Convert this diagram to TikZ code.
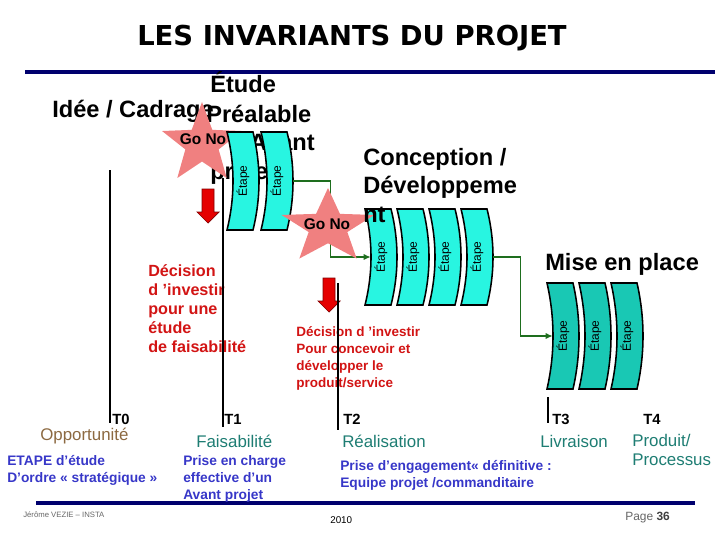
\documentclass[tikz,border=0pt]{standalone}
\usepackage{fontspec}
\setmainfont{Liberation Sans}
\newfontfamily\titlefont{DejaVu Sans}
\usepackage{graphicx}
\usetikzlibrary{shapes.geometric,arrows.meta}
\definecolor{navy}{RGB}{0,0,110}
\definecolor{etapeA}{RGB}{40,245,225}
\definecolor{etapeB}{RGB}{25,200,180}
\definecolor{gonogo}{RGB}{240,128,128}
\definecolor{lien}{RGB}{30,110,30}
\definecolor{decision}{RGB}{210,20,20}
\definecolor{jalonc}{RGB}{30,125,115}
\definecolor{opport}{RGB}{140,105,65}
\definecolor{consignec}{RGB}{55,55,200}
\begin{document}
\begin{tikzpicture}[x=0.025cm,y=-0.025cm,
  bigtxt/.style={font=\fontsize{16.8}{20.3}\selectfont\bfseries,inner sep=0,anchor=base west},
  gostar/.style={star,star points=5,star point ratio=2.4,fill=gonogo,draw=none,inner sep=0},
  gotxt/.style={font=\fontsize{11}{13}\selectfont\bfseries,inner sep=0},
  etape/.style={draw=black,line width=1.1pt},
  etapetxt/.style={inner sep=0,minimum width=0.8cm,font=\fontsize{8.5}{10}\selectfont},
  link/.style={draw=lien,line width=1pt,-{Latex[length=5pt,width=4.5pt]}},
  redarrow/.style={fill=red!90!black,draw=red!50!black,line width=0.5pt},
  tline/.style={line width=1.3pt},
  tlabel/.style={font=\fontsize{10.5}{12}\selectfont\bfseries,inner sep=0,anchor=base west},
  decis/.style={text=decision,inner sep=0,anchor=north west,align=left},
  jalon/.style={text=jalonc,font=\fontsize{12}{13.5}\selectfont,inner sep=0,anchor=base west},
  consigne/.style={text=consignec,font=\fontsize{9.8}{12.1}\selectfont\bfseries,inner sep=0,anchor=north west,align=left}]
\useasboundingbox (0,0) rectangle (720,540);
% titre et filets
\node[font=\titlefont\bfseries\fontsize{19.5}{23}\selectfont,inner sep=0,anchor=base] (titre) at (352,45) {LES INVARIANTS DU PROJET};
\draw[navy,line width=2.8pt] (25,72) -- (715,72);
\draw[navy,line width=2.8pt] (36,503) -- (695,503);
% phases
\node[bigtxt] (idee) at (52,117) {Idée / Cadrage};
\node[bigtxt] (etude) at (210,92) {Étude};
\node[bigtxt] (prealable) at (206,122) {Préalable};
\node[bigtxt,anchor=base east] (avant) at (315,150) {Avant};
\node[bigtxt] (projet) at (210,179) {projet};
\node[gostar,minimum size=2.1cm] (s1) at (202,144) {};
\node[gotxt] (go1) at (203,139) {Go No};
% etapes
\foreach \n/\x/\y/\h/\c in {a1/243/181/49/etapeA,a2/277/181/49/etapeA,
  c1/381/257/48/etapeA,c2/413/257/48/etapeA,c3/445/257/48/etapeA,c4/477/257/48/etapeA,
  m1/563/336/53/etapeB,m2/595/336/53/etapeB,m3/627/336/53/etapeB}{
\draw[etape,fill=\c] (\x-16,\y-\h) -- (\x+10,\y-\h) .. controls (\x+18,\y-\h/3) and (\x+18,\y+\h/3) .. (\x+10,\y+\h) -- (\x-16,\y+\h) .. controls (\x-8,\y+\h/3) and (\x-8,\y-\h/3) .. cycle;
\node[etapetxt] (\n) at (\x,\y) {\rotatebox{90}{Étape}};
}
\draw[link,shorten >=-0.15cm] (a2.east) -- ++(37,0) |- (c1.west);
\draw[link,shorten >=-0.15cm] (c4.east) -- ++(27,0) |- (m1.west);
\begin{scope}[shift={(328,227)},xscale=1.25]
\node[gostar,transform shape,minimum size=1.95cm] (s2) at (0,0) {};
\end{scope}
\node[gotxt] (go2) at (327,224) {Go No};
\node[bigtxt,anchor=north west,align=left] (concep) at (363,148) {Conception /\\Développeme\\nt};
\node[bigtxt] (mise) at (545,270) {Mise en place};
% decisions
\foreach \x/\y in {208/189,329/278}
\draw[redarrow] (\x-6,\y) -- (\x+6,\y) -- (\x+6,\y+23) -- (\x+11,\y+23) -- (\x,\y+34) -- (\x-11,\y+23) -- (\x-6,\y+23) -- cycle;
\node[decis,font=\fontsize{11.5}{13.5}\selectfont\bfseries] (dec1) at (148,264) {Décision\\d ’investir\\pour une\\étude\\de faisabilité};
\node[decis,font=\fontsize{9.6}{12.1}\selectfont\bfseries] (dec2) at (296,326) {Décision d ’investir\\Pour concevoir et\\développer le\\produit/service};
% jalons
\foreach \x/\a/\b in {110/170/423,223/178/427,338/283/430,548/397/423}
\draw[tline] (\x,\a) -- (\x,\b);
\foreach \t/\x in {0/112,1/224,2/343,3/552,4/643}
\node[tlabel] (t\t) at (\x,424) {T\t};
\node[jalon,text=opport] (opport) at (40,440) {Opportunité};
\node[jalon] (faisa) at (196,447) {Faisabilité};
\node[jalon] (realis) at (342,447) {Réalisation};
\node[jalon] (livr) at (540,447) {Livraison};
\node[jalon,anchor=north west,align=left] (produit) at (632,434) {Produit/\\Processus};
\node[consigne] (strat) at (7,455) {ETAPE d’étude\\D’ordre « stratégique »};
\node[consigne] (charge) at (183,455) {Prise en charge\\effective d’un\\Avant projet};
\node[consigne] (engag) at (340,460) {Prise d’engagement« définitive :\\ Equipe projet /commanditaire};
% pied de page
\node[font=\fontsize{5.5}{6}\selectfont,text=black!60,inner sep=0,anchor=base west] (auteur) at (23,517) {Jérôme VEZIE – INSTA};
\node[font=\fontsize{7}{8}\selectfont,inner sep=0,anchor=base west] (annee) at (330,523) {2010};
\node[font=\fontsize{8.5}{10}\selectfont,text=black!60,inner sep=0,anchor=base west] (page) at (625,520) {Page \textcolor{black!75}{\textbf{36}}};
\end{tikzpicture}
\end{document}
